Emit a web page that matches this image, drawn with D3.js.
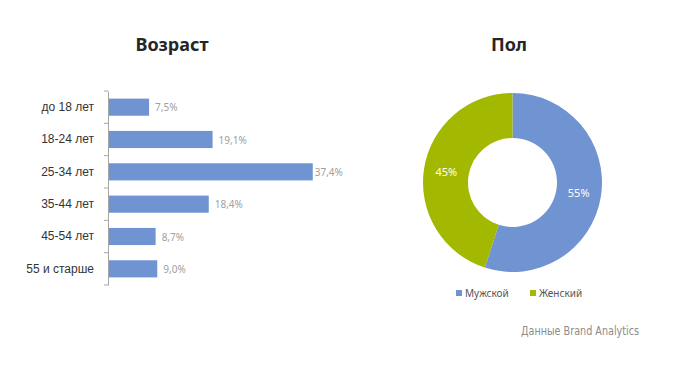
<!DOCTYPE html>
<html>
<head>
<meta charset="utf-8">
<script src="https://cdn.jsdelivr.net/npm/d3@7"></script>
<style>
  body { margin: 0; background: #fff; }
  svg { font-family: "Noto Sans", "Open Sans", sans-serif; }
</style>
</head>
<body>
<div id="chart"></div>
<script>
// age groups and their shares
var ageGroups = ["до 18 лет", "18-24 лет", "25-34 лет", "35-44 лет", "45-54 лет", "55 и старше"];
var ageValues = [7.5, 19.1, 37.4, 18.4, 8.7, 9.0];
var ageLabels = ["7,5%", "19,1%", "37,4%", "18,4%", "8,7%", "9,0%"];

// gender split
var genders = ["Мужской", "Женский"];
var genderValues = [55, 45];
var genderLabels = ["55%", "45%"];
var genderColors = ["#7094d2", "#a3b800"];

var w = 677, h = 367;
var svg = d3.select("#chart").append("svg")
    .attr("width", w)
    .attr("height", h);

// titles
svg.append("text").attr("x", 172).attr("y", 51)
    .attr("text-anchor", "middle")
    .style("font-size", "18px").style("font-weight", "bold").attr("fill", "#262626")
    .text("Возраст");
svg.append("text").attr("x", 509).attr("y", 51)
    .attr("text-anchor", "middle")
    .style("font-size", "18px").style("font-weight", "bold").attr("fill", "#262626")
    .text("Пол");

// bar chart
var x = d3.scaleLinear().domain([0, 40]).range([108, 327]);
var y = d3.scaleBand().domain(ageGroups).range([91, 285]).paddingInner(0.47).paddingOuter(0.235);

var axis = svg.append("g")
    .attr("transform", "translate(108,0)")
    .call(d3.axisLeft(y).tickSize(0).tickPadding(14).tickSizeOuter(0));
axis.select(".domain").attr("stroke", "#a6a6a6");
axis.selectAll("text").style("font-size", "12px").attr("fill", "#333");

// tick marks between categories
var bounds = d3.range(ageGroups.length + 1).map(function(i) { return 91 + i * (194 / ageGroups.length); });
svg.selectAll(".tk").data(bounds).enter().append("line")
    .attr("x1", 104).attr("x2", 108)
    .attr("y1", function(d) { return d; }).attr("y2", function(d) { return d; })
    .attr("stroke", "#a6a6a6");

svg.selectAll(".bar").data(ageValues).enter().append("rect")
    .attr("x", x(0) + 1)
    .attr("y", function(d, i) { return y(ageGroups[i]); })
    .attr("width", function(d) { return x(d) - x(0) - 1; })
    .attr("height", y.bandwidth())
    .attr("fill", "#7094d2");

svg.selectAll(".val").data(ageValues).enter().append("text")
    .attr("x", function(d) { return x(d) + (d > 30 ? 2 : 6); })
    .attr("y", function(d, i) { return y(ageGroups[i]) + y.bandwidth() / 2 + 4; })
    .style("font-size", "10px").attr("fill", "#a0a0a0")
    .text(function(d, i) { return ageLabels[i]; });

// donut chart
var cx = 512.5, cy = 182.5;
var pie = d3.pie().sort(null)(genderValues);
var arc = d3.arc().innerRadius(44.5).outerRadius(89.5);
var donut = svg.append("g").attr("transform", "translate(" + cx + "," + cy + ")");
donut.selectAll("path").data(pie).enter().append("path")
    .attr("d", arc)
    .attr("fill", function(d, i) { return genderColors[i]; });

var labelArc = d3.arc().innerRadius(67).outerRadius(67);
donut.selectAll(".pl").data(pie).enter().append("text")
    .attr("transform", function(d) { return "translate(" + labelArc.centroid(d) + ")"; })
    .attr("text-anchor", "middle").attr("dy", "0.35em")
    .style("font-size", "11px").attr("fill", "#fff")
    .text(function(d, i) { return genderLabels[i]; });

// legend
var legX = [456, 530];
var leg = svg.selectAll(".leg").data(genders).enter().append("g")
    .attr("transform", function(d, i) { return "translate(" + legX[i] + ",294)"; });
leg.append("rect").attr("x", 0).attr("y", -4).attr("width", 6).attr("height", 6)
    .attr("fill", function(d, i) { return genderColors[i]; });
leg.append("text").attr("x", 9).attr("y", 3)
    .style("font-size", "10px").attr("fill", "#555")
    .text(function(d) { return d; });

// source note
svg.append("text").attr("x", 521).attr("y", 335)
    .attr("textLength", 118).attr("lengthAdjust", "spacingAndGlyphs")
    .style("font-family", "'Liberation Sans Narrow', 'DejaVu Sans Condensed', sans-serif")
    .style("font-size", "13px").attr("fill", "#8c8c8c")
    .text("Данные Brand Analytics");
</script>
</body>
</html>
